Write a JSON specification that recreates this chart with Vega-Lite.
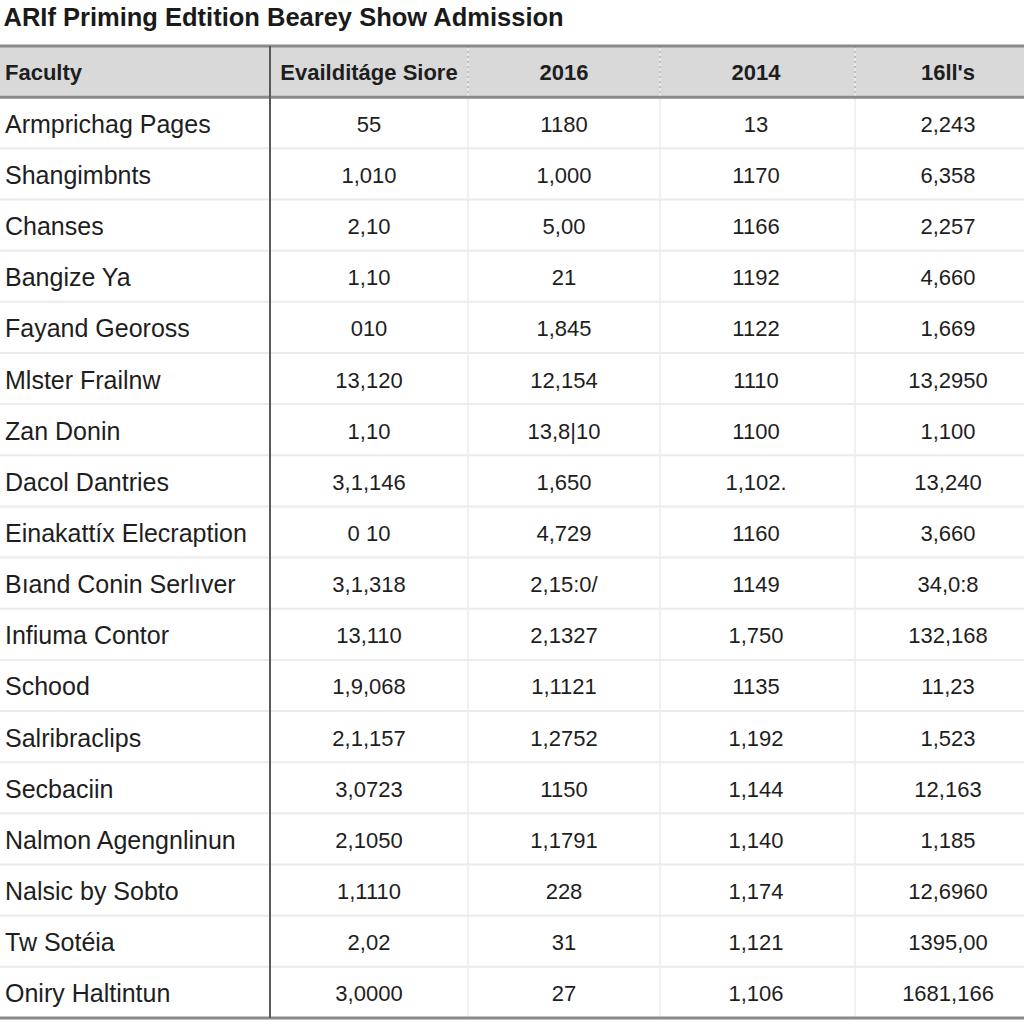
{
  "$schema": "https://vega.github.io/schema/vega-lite/v6.json",
  "width": 1024,
  "height": 972,
  "autosize": {"type": "none"},
  "padding": {"top": 46, "left": 0, "right": 0, "bottom": 6},
  "background": "#ffffff",
  "view": {"stroke": null},
  "title": {"text": "ARIf Priming Edtition Bearey Show Admission", "anchor": "start", "font": "Liberation Sans", "fontSize": 25.5, "fontWeight": "bold", "color": "#1a1a1a", "offset": 13, "dx": 5},
  "data": {"values": [
    {"faculty": "Faculty", "a": "Evailditáge Siore", "b": "2016", "c": "2014", "d": "16ll's"},
    {"faculty": "Armprichag Pages", "a": "55", "b": "1180", "c": "13", "d": "2,243"},
    {"faculty": "Shangimbnts", "a": "1,010", "b": "1,000", "c": "1170", "d": "6,358"},
    {"faculty": "Chanses", "a": "2,10", "b": "5,00", "c": "1166", "d": "2,257"},
    {"faculty": "Bangize Ya", "a": "1,10", "b": "21", "c": "1192", "d": "4,660"},
    {"faculty": "Fayand Geoross", "a": "010", "b": "1,845", "c": "1122", "d": "1,669"},
    {"faculty": "Mlster Frailnw", "a": "13,120", "b": "12,154", "c": "1110", "d": "13,2950"},
    {"faculty": "Zan Donin", "a": "1,10", "b": "13,8|10", "c": "1100", "d": "1,100"},
    {"faculty": "Dacol Dantries", "a": "3,1,146", "b": "1,650", "c": "1,102.", "d": "13,240"},
    {"faculty": "Einakattíx Elecraption", "a": "0 10", "b": "4,729", "c": "1160", "d": "3,660"},
    {"faculty": "Bıand Conin Serlıver", "a": "3,1,318", "b": "2,15:0/", "c": "1149", "d": "34,0:8"},
    {"faculty": "Infiuma Contor", "a": "13,110", "b": "2,1327", "c": "1,750", "d": "132,168"},
    {"faculty": "Schood", "a": "1,9,068", "b": "1,1121", "c": "1135", "d": "11,23"},
    {"faculty": "Salribraclips", "a": "2,1,157", "b": "1,2752", "c": "1,192", "d": "1,523"},
    {"faculty": "Secbaciin", "a": "3,0723", "b": "1150", "c": "1,144", "d": "12,163"},
    {"faculty": "Nalmon Agengnlinun", "a": "2,1050", "b": "1,1791", "c": "1,140", "d": "1,185"},
    {"faculty": "Nalsic by Sobto", "a": "1,1110", "b": "228", "c": "1,174", "d": "12,6960"},
    {"faculty": "Tw Sotéia", "a": "2,02", "b": "31", "c": "1,121", "d": "1395,00"},
    {"faculty": "Oniry Haltintun", "a": "3,0000", "b": "27", "c": "1,106", "d": "1681,166"}
  ]},
  "layer": [
    {
      "transform": [{"filter": "datum.faculty === 'Faculty'"}],
      "mark": {"type": "rect", "color": "#d9d9d9"},
      "encoding": {
        "x": {"datum": -0.5, "type": "quantitative", "axis": null, "scale": {"type": "linear", "nice": false, "zero": false, "domain": [-0.5, 0, 0.5, 1, 1.5, 2, 2.5, 3, 3.5, 4, 4.5], "range": [0, 5, 270, 369, 468, 564, 660, 756, 855, 948, 1024]}},
        "x2": {"datum": 4.5},
        "y": {"field": "faculty", "type": "nominal", "axis": null, "scale": {"domain": ["Faculty", "Armprichag Pages", "Shangimbnts", "Chanses", "Bangize Ya", "Fayand Geoross", "Mlster Frailnw", "Zan Donin", "Dacol Dantries", "Einakattíx Elecraption", "Bıand Conin Serlıver", "Infiuma Contor", "Schood", "Salribraclips", "Secbaciin", "Nalmon Agengnlinun", "Nalsic by Sobto", "Tw Sotéia", "Oniry Haltintun"], "paddingInner": 0, "paddingOuter": 0}}
      }
    },
    {
      "data": {"values": [{"k": 1.5}, {"k": 2.5}, {"k": 3.5}]},
      "mark": {"type": "rule", "color": "#ececec", "strokeWidth": 1.5},
      "encoding": {
        "x": {"field": "k", "type": "quantitative", "axis": null}
      }
    },
    {
      "data": {"values": [{"k": 1.5, "r": "Faculty"}, {"k": 2.5, "r": "Faculty"}, {"k": 3.5, "r": "Faculty"}]},
      "mark": {"type": "rule", "color": "#9a9a9a", "strokeWidth": 1, "strokeDash": [2, 3]},
      "encoding": {
        "x": {"field": "k", "type": "quantitative"},
        "y": {"field": "r", "type": "nominal", "bandPosition": 0},
        "y2": {"field": "r", "bandPosition": 1}
      }
    },
    {
      "transform": [{"filter": "datum.faculty !== 'Faculty' && datum.faculty !== 'Oniry Haltintun'"}],
      "mark": {"type": "rule", "color": "#ebebeb", "strokeWidth": 2},
      "encoding": {
        "x": {"datum": -0.5, "type": "quantitative"},
        "x2": {"datum": 4.5},
        "y": {"field": "faculty", "type": "nominal", "bandPosition": 1}
      }
    },
    {
      "transform": [{"filter": "datum.faculty === 'Faculty'"}],
      "mark": {"type": "rule", "color": "#8a8a8a", "strokeWidth": 3},
      "encoding": {
        "x": {"datum": -0.5, "type": "quantitative"},
        "x2": {"datum": 4.5},
        "y": {"field": "faculty", "type": "nominal", "bandPosition": 0}
      }
    },
    {
      "transform": [{"filter": "datum.faculty === 'Faculty'"}],
      "mark": {"type": "rule", "color": "#8a8a8a", "strokeWidth": 3},
      "encoding": {
        "x": {"datum": -0.5, "type": "quantitative"},
        "x2": {"datum": 4.5},
        "y": {"field": "faculty", "type": "nominal", "bandPosition": 1}
      }
    },
    {
      "transform": [{"filter": "datum.faculty === 'Oniry Haltintun'"}],
      "mark": {"type": "rule", "color": "#8a8a8a", "strokeWidth": 3},
      "encoding": {
        "x": {"datum": -0.5, "type": "quantitative"},
        "x2": {"datum": 4.5},
        "y": {"field": "faculty", "type": "nominal", "bandPosition": 1}
      }
    },
    {
      "data": {"values": [{"k": 0.5}]},
      "mark": {"type": "rule", "color": "#5a5a5a", "strokeWidth": 2},
      "encoding": {
        "x": {"field": "k", "type": "quantitative"}
      }
    },
    {
      "transform": [{"filter": "datum.faculty !== 'Faculty'"}],
      "mark": {"type": "text", "align": "left", "baseline": "middle", "font": "Liberation Sans", "fontSize": 25, "color": "#1e1e1e", "dy": 2},
      "encoding": {
        "x": {"datum": 0, "type": "quantitative"},
        "y": {"field": "faculty", "type": "nominal", "bandPosition": 0.5},
        "text": {"field": "faculty"}
      }
    },
    {
      "transform": [{"filter": "datum.faculty === 'Faculty'"}],
      "mark": {"type": "text", "align": "left", "baseline": "middle", "font": "Liberation Sans", "fontSize": 22, "fontWeight": "bold", "color": "#1e1e1e", "dy": 1},
      "encoding": {
        "x": {"datum": 0, "type": "quantitative"},
        "y": {"field": "faculty", "type": "nominal", "bandPosition": 0.5},
        "text": {"field": "faculty"}
      }
    },
    {
      "transform": [{"filter": "datum.faculty !== 'Faculty'"}],
      "mark": {"type": "text", "align": "center", "baseline": "middle", "font": "Liberation Sans", "fontSize": 22, "color": "#1e1e1e", "dy": 2},
      "encoding": {
        "x": {"datum": 1, "type": "quantitative"},
        "y": {"field": "faculty", "type": "nominal", "bandPosition": 0.5},
        "text": {"field": "a"}
      }
    },
    {
      "transform": [{"filter": "datum.faculty !== 'Faculty'"}],
      "mark": {"type": "text", "align": "center", "baseline": "middle", "font": "Liberation Sans", "fontSize": 22, "color": "#1e1e1e", "dy": 2},
      "encoding": {
        "x": {"datum": 2, "type": "quantitative"},
        "y": {"field": "faculty", "type": "nominal", "bandPosition": 0.5},
        "text": {"field": "b"}
      }
    },
    {
      "transform": [{"filter": "datum.faculty !== 'Faculty'"}],
      "mark": {"type": "text", "align": "center", "baseline": "middle", "font": "Liberation Sans", "fontSize": 22, "color": "#1e1e1e", "dy": 2},
      "encoding": {
        "x": {"datum": 3, "type": "quantitative"},
        "y": {"field": "faculty", "type": "nominal", "bandPosition": 0.5},
        "text": {"field": "c"}
      }
    },
    {
      "transform": [{"filter": "datum.faculty !== 'Faculty'"}],
      "mark": {"type": "text", "align": "center", "baseline": "middle", "font": "Liberation Sans", "fontSize": 22, "color": "#1e1e1e", "dy": 2},
      "encoding": {
        "x": {"datum": 4, "type": "quantitative"},
        "y": {"field": "faculty", "type": "nominal", "bandPosition": 0.5},
        "text": {"field": "d"}
      }
    },
    {
      "transform": [{"filter": "datum.faculty === 'Faculty'"}],
      "mark": {"type": "text", "align": "center", "baseline": "middle", "font": "Liberation Sans", "fontSize": 22, "fontWeight": "bold", "color": "#1e1e1e", "dy": 1},
      "encoding": {
        "x": {"datum": 1, "type": "quantitative"},
        "y": {"field": "faculty", "type": "nominal", "bandPosition": 0.5},
        "text": {"field": "a"}
      }
    },
    {
      "transform": [{"filter": "datum.faculty === 'Faculty'"}],
      "mark": {"type": "text", "align": "center", "baseline": "middle", "font": "Liberation Sans", "fontSize": 22, "fontWeight": "bold", "color": "#1e1e1e", "dy": 1},
      "encoding": {
        "x": {"datum": 2, "type": "quantitative"},
        "y": {"field": "faculty", "type": "nominal", "bandPosition": 0.5},
        "text": {"field": "b"}
      }
    },
    {
      "transform": [{"filter": "datum.faculty === 'Faculty'"}],
      "mark": {"type": "text", "align": "center", "baseline": "middle", "font": "Liberation Sans", "fontSize": 22, "fontWeight": "bold", "color": "#1e1e1e", "dy": 1},
      "encoding": {
        "x": {"datum": 3, "type": "quantitative"},
        "y": {"field": "faculty", "type": "nominal", "bandPosition": 0.5},
        "text": {"field": "c"}
      }
    },
    {
      "transform": [{"filter": "datum.faculty === 'Faculty'"}],
      "mark": {"type": "text", "align": "center", "baseline": "middle", "font": "Liberation Sans", "fontSize": 22, "fontWeight": "bold", "color": "#1e1e1e", "dy": 1},
      "encoding": {
        "x": {"datum": 4, "type": "quantitative"},
        "y": {"field": "faculty", "type": "nominal", "bandPosition": 0.5},
        "text": {"field": "d"}
      }
    }
  ]
}
